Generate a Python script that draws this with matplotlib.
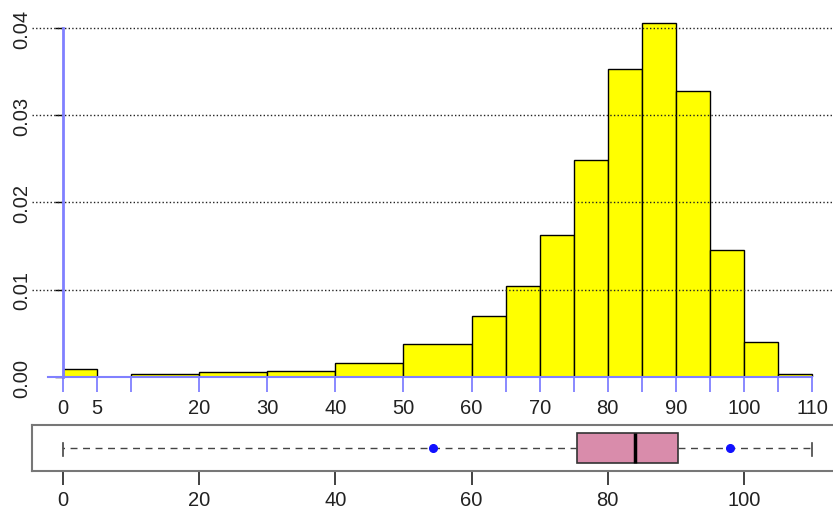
import matplotlib
matplotlib.use("Agg")
import matplotlib.pyplot as plt
import numpy as np

plt.rcParams['font.family'] = ['Liberation Sans', 'DejaVu Sans']

# Histogram breaks and densities
breaks = [0, 5, 10, 20, 30, 40, 50, 60, 65, 70, 75, 80, 85, 90, 95, 100, 105, 110]
density = [0.0009, 0.0, 0.0003, 0.0006, 0.0007, 0.0016, 0.0038, 0.0070, 0.0104,
           0.0163, 0.0249, 0.0353, 0.0406, 0.0328, 0.0146, 0.0040, 0.0004]
xtick_pos = [0, 5, 10, 20, 30, 40, 50, 60, 65, 70, 75, 80, 85, 90, 95, 100, 105, 110]
xtick_lab = ["0", "5", "", "20", "30", "40", "50", "60", "", "70", "", "80", "", "90", "", "100", "", "110"]
yticks = [0.00, 0.01, 0.02, 0.03, 0.04]
ytick_lab = ["0.00", "0.01", "0.02", "0.03", "0.04"]

# Boxplot summary
whisker_lo, q1, med, q3, whisker_hi = 0, 75.5, 84.0, 90.3, 110
points = [54.4, 97.9]
box_ticks = [0, 20, 40, 60, 80, 100]

W, H = 833, 510
fig = plt.figure(figsize=(W / 100, H / 100), dpi=100)

def rect(x0, y0, x1, y1):
    return [x0 / W, 1 - y1 / H, (x1 - x0) / W, (y1 - y0) / H]

blue = '#8080ff'
fs = 14.5
xlim = (-4.553, 114.55)

ax = fig.add_axes(rect(32, 0, 843, 378))
widths = np.diff(breaks)
ax.bar(breaks[:-1], density, width=widths, align='edge', color='#ffff00',
       edgecolor='black', linewidth=1.0, zorder=2)
ax.set_xlim(*xlim)
ax.set_ylim(0, 0.04332)
for yv in yticks[1:]:
    ax.axhline(yv, color='#222222', linestyle=(0, (1, 1.6)), linewidth=1.0, zorder=4)

for s in ['top', 'right']:
    ax.spines[s].set_visible(False)
ax.spines['left'].set_position(('data', 0))
ax.spines['left'].set_bounds(0, 0.04)
ax.spines['left'].set_color(blue)
ax.spines['left'].set_linewidth(2)
ax.spines['left'].set_zorder(5)
ax.spines['bottom'].set_bounds(-2.2, 110)
ax.spines['bottom'].set_color(blue)
ax.spines['bottom'].set_linewidth(1.5)
ax.spines['bottom'].set_zorder(5)

ax.set_xticks(xtick_pos)
ax.set_xticklabels(xtick_lab, fontsize=fs)
ax.tick_params(axis='x', colors=blue, labelcolor='#222222', length=11, width=1.3,
               direction='out', pad=4)
ax.set_yticks(yticks)
ax.set_yticklabels(ytick_lab, fontsize=fs, rotation=90, va='center')
ax.tick_params(axis='y', colors='black', labelcolor='#222222', length=6, width=1.0,
               direction='out', pad=17)

# Boxplot panel
bx = fig.add_axes(rect(32, 426, 843, 472))
bx.set_xlim(*xlim)
bx.set_ylim(0, 1)
bp = bx.boxplot([[whisker_lo, q1, med, q3, whisker_hi]], vert=False, positions=[0.5],
                widths=0.66, whis=(0, 100), patch_artist=True,
                showfliers=False, manage_ticks=False)
for b in bp['boxes']:
    b.set_facecolor('#d98cab')
    b.set_edgecolor('#333333')
    b.set_linewidth(1.2)
for m in bp['medians']:
    m.set_color('black')
    m.set_linewidth(2.5)
for w in bp['whiskers']:
    w.set_color('#444444')
    w.set_linestyle((0, (5, 4)))
    w.set_linewidth(1.0)
for c in bp['caps']:
    c.set_color('#444444')
    c.set_linewidth(1.2)
    c.set_xdata([c.get_xdata()[0]] * 2)
    c.set_ydata([0.33, 0.6])
bx.plot(points, [0.5] * len(points), 'o', color='#1010ff', markersize=5.5, zorder=5)

for s in bx.spines.values():
    s.set_color('#777777')
    s.set_linewidth(1.5)
bx.set_yticks([])
bx.set_xticks(box_ticks)
bx.set_xticklabels([str(t) for t in box_ticks], fontsize=fs)
bx.tick_params(axis='x', colors='#333333', labelcolor='#222222', length=10, width=1.3, pad=4)

fig.savefig('out.png', dpi=100)
